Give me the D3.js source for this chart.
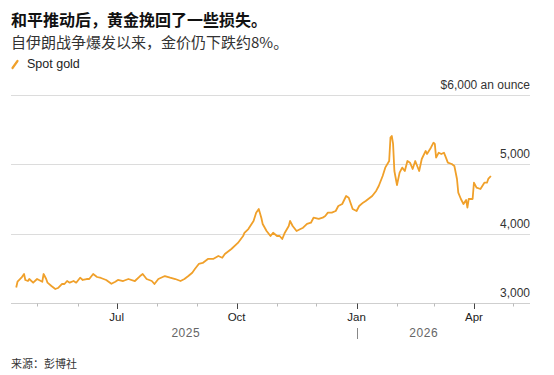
<!DOCTYPE html>
<html><head><meta charset="utf-8">
<script src="https://cdn.jsdelivr.net/npm/d3@7"></script>
<style>
body{margin:0;background:#fff;}
svg{display:block;font-family:"Liberation Sans",Arial,"Noto Sans CJK SC",sans-serif;}
.cjk{font-family:"Noto Sans CJK SC","Liberation Sans",sans-serif;}
</style></head><body>
<svg id="c" width="554" height="375"></svg>
<script>
const title = "和平推动后，黄金挽回了一些损失。";
const subtitle = "自伊朗战争爆发以来，金价仍下跌约8%。";
const seriesName = "Spot gold";
const source = "来源：彭博社";
const yTicks = [3000, 4000, 5000, 6000];
const yTickLabels = ["3,000", "4,000", "5,000", "$6,000 an ounce"];
const monthLabels = [["2025-07-01","Jul"],["2025-10-01","Oct"],["2026-01-01","Jan"],["2026-04-01","Apr"]];
const years = ["2025", "2026"];
const dates = ["2025-04-15","2025-04-16","2025-04-19","2025-04-21","2025-04-22","2025-04-24","2025-04-25","2025-04-28","2025-05-01","2025-05-05","2025-05-06","2025-05-08","2025-05-09","2025-05-12","2025-05-15","2025-05-17","2025-05-20","2025-05-22","2025-05-24","2025-05-26","2025-05-29","2025-05-31","2025-06-03","2025-06-05","2025-06-08","2025-06-10","2025-06-13","2025-06-16","2025-06-19","2025-06-23","2025-06-27","2025-06-30","2025-07-02","2025-07-06","2025-07-10","2025-07-15","2025-07-19","2025-07-21","2025-07-24","2025-07-28","2025-07-30","2025-08-02","2025-08-07","2025-08-11","2025-08-15","2025-08-19","2025-08-22","2025-08-25","2025-08-28","2025-08-30","2025-09-02","2025-09-05","2025-09-09","2025-09-13","2025-09-17","2025-09-20","2025-09-22","2025-09-27","2025-10-02","2025-10-06","2025-10-07","2025-10-10","2025-10-14","2025-10-16","2025-10-18","2025-10-20","2025-10-21","2025-10-24","2025-10-27","2025-10-29","2025-11-01","2025-11-03","2025-11-05","2025-11-07","2025-11-10","2025-11-11","2025-11-13","2025-11-16","2025-11-19","2025-11-21","2025-11-24","2025-11-27","2025-11-29","2025-12-03","2025-12-06","2025-12-08","2025-12-10","2025-12-13","2025-12-16","2025-12-18","2025-12-21","2025-12-24","2025-12-26","2025-12-29","2026-01-01","2026-01-03","2026-01-06","2026-01-08","2026-01-10","2026-01-13","2026-01-16","2026-01-18","2026-01-21","2026-01-23","2026-01-26","2026-01-27","2026-01-28","2026-01-29","2026-01-30","2026-02-01","2026-02-03","2026-02-05","2026-02-07","2026-02-09","2026-02-11","2026-02-13","2026-02-15","2026-02-18","2026-02-20","2026-02-23","2026-02-24","2026-02-27","2026-03-01","2026-03-02","2026-03-03","2026-03-05","2026-03-07","2026-03-09","2026-03-10","2026-03-12","2026-03-15","2026-03-17","2026-03-19","2026-03-20","2026-03-22","2026-03-24","2026-03-26","2026-03-27","2026-03-28","2026-03-31","2026-04-01","2026-04-03","2026-04-06","2026-04-09","2026-04-11","2026-04-12","2026-04-14"];
const prices = [3224,3307,3365,3418,3332,3317,3346,3293,3346,3307,3418,3346,3293,3245,3202,3216,3274,3274,3317,3293,3317,3293,3365,3332,3346,3346,3418,3375,3361,3332,3278,3307,3332,3317,3346,3317,3389,3418,3346,3317,3274,3346,3389,3365,3346,3317,3346,3389,3437,3490,3563,3577,3635,3635,3678,3653,3707,3779,3866,3966,4010,4067,4183,4303,4356,4226,4140,4039,3966,4014,3966,3966,3923,4014,4111,4183,4111,4039,4067,4086,4140,4158,4230,4212,4230,4255,4303,4303,4327,4399,4428,4543,4519,4356,4327,4399,4447,4471,4500,4543,4616,4688,4832,4952,5048,5385,5409,5294,4904,4702,4880,4952,4904,5048,5024,4933,5048,4904,5077,5193,5149,5240,5312,5294,5096,5168,5149,5168,5121,5024,5005,4976,4789,4591,4500,4428,4486,4375,4500,4500,4735,4663,4644,4735,4735,4789,4832];

const parse = d3.utcParse("%Y-%m-%d");
const data = dates.map((d,i)=>({date:parse(d), v:prices[i]}));
const svg = d3.select("#c");
const L = 11, R = 530;
const x = d3.scaleUtc().domain([parse("2025-04-11"), parse("2026-05-14")]).range([L, R]);
const y = d3.scaleLinear().domain([3000, 6000]).range([303, 95]);

svg.append("text").attr("class","cjk").attr("x",11).attr("y",26).attr("font-size",16).attr("font-weight",700).attr("fill","#111").text(title);
svg.append("text").attr("class","cjk").attr("x",11).attr("y",48).attr("font-size",15).attr("fill","#333").text(subtitle);
svg.append("line").attr("x1",12.5).attr("y1",68).attr("x2",17.5).attr("y2",61).attr("stroke","#F0A02A").attr("stroke-width",2.2).attr("stroke-linecap","round");
svg.append("text").attr("x",27).attr("y",68).attr("font-size",12.5).attr("fill","#222").text(seriesName);

const grid = svg.append("g");
yTicks.forEach((t,i)=>{
  grid.append("line").attr("x1",L).attr("x2",R).attr("y1",Math.round(y(t))+0.5).attr("y2",Math.round(y(t))+0.5)
    .attr("stroke", i===0 ? "#cfcfcf" : "#dcdcdc").attr("stroke-width",1);
  grid.append("text").attr("x",R).attr("y",y(t)-6).attr("text-anchor","end").attr("font-size",12).attr("fill","#333").text(yTickLabels[i]);
});

const ax = svg.append("g");
const months = d3.utcMonth.range(parse("2025-05-01"), parse("2026-05-02"));
const majorSet = new Set(monthLabels.map(m=>m[0]));
const fmt = d3.utcFormat("%Y-%m-%d");
months.forEach(m=>{
  const major = majorSet.has(fmt(m));
  const xx = Math.round(x(m))+0.5;
  ax.append("line").attr("x1",xx).attr("x2",xx).attr("y1",303.5).attr("y2",major?309:306.5)
    .attr("stroke", major ? "#444" : "#bbb").attr("stroke-width",1);
});
monthLabels.forEach(([d,lab])=>{
  ax.append("text").attr("x",x(parse(d))).attr("y",321).attr("text-anchor","middle").attr("font-size",11.5).attr("font-weight",500).attr("fill","#222").text(lab);
});
const janX = x(parse("2026-01-01"));
const lastX = x(data[data.length-1].date);
ax.append("text").attr("x",(L+janX)/2+2).attr("y",337).attr("text-anchor","middle").attr("font-size",12).attr("fill","#666").attr("letter-spacing",0.5).text(years[0]);
ax.append("text").attr("x",(janX+lastX)/2).attr("y",337).attr("text-anchor","middle").attr("font-size",12).attr("fill","#666").attr("letter-spacing",0.5).text(years[1]);
ax.append("line").attr("x1",Math.round(janX)+0.5).attr("x2",Math.round(janX)+0.5).attr("y1",328).attr("y2",339).attr("stroke","#888").attr("stroke-width",1);

const line = d3.line().x(d=>x(d.date)).y(d=>y(d.v)).curve(d3.curveLinear);
svg.append("path").datum(data).attr("d",line).attr("fill","none").attr("stroke","#F0A02A").attr("stroke-width",1.8).attr("stroke-linejoin","round");

svg.append("text").attr("class","cjk").attr("x",11).attr("y",368).attr("font-size",11).attr("fill","#333").text(source);
</script>
</body></html>
